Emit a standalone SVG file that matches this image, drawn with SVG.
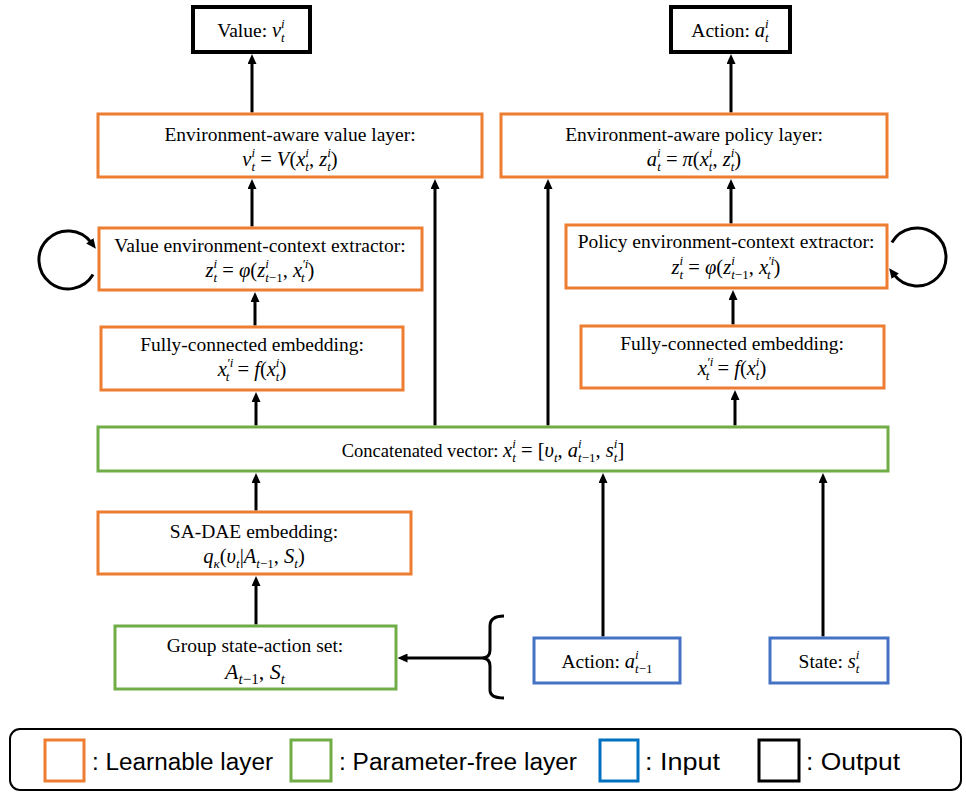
<svg xmlns="http://www.w3.org/2000/svg" width="966" height="792" viewBox="0 0 966 792">
<style>
.t{font-family:"Liberation Serif","Times New Roman",serif;font-size:19.5px;fill:#000;text-anchor:middle}
.m{font-size:20.5px}
.i{font-style:italic}
.s{font-size:13px;font-style:italic}
.n{font-size:13px;font-style:normal}
.lg{font-family:"Liberation Sans",Arial,sans-serif;font-size:23px;fill:#000}
.or{fill:#fff;stroke:#ED7D31;stroke-width:3}
.gr{fill:#fff;stroke:#70AD47;stroke-width:3}
.bl{fill:#fff;stroke:#4472C4;stroke-width:3}
.bk{fill:#fff;stroke:#000;stroke-width:4}
.c{fill:none;stroke:#000;stroke-width:3}
</style>
<defs>
<marker id="ah" viewBox="0 0 10 9" refX="2" refY="4.5" markerWidth="10" markerHeight="9" markerUnits="userSpaceOnUse" orient="auto">
<path d="M0,0 L10,4.5 L0,9 z" fill="#000"/>
</marker>
</defs>

<g id="connectors">
<path class="c" marker-end="url(#ah)" d="M252,112.5 V62"/>
<path class="c" marker-end="url(#ah)" d="M731,112.5 V62"/>
<path class="c" marker-end="url(#ah)" d="M252,226.5 V187"/>
<path class="c" marker-end="url(#ah)" d="M435,425.5 V187"/>
<path class="c" marker-end="url(#ah)" d="M548,425.5 V187"/>
<path class="c" marker-end="url(#ah)" d="M731,223.5 V187"/>
<path class="c" marker-end="url(#ah)" d="M255,325.5 V300"/>
<path class="c" marker-end="url(#ah)" d="M733,324.5 V298"/>
<path class="c" marker-end="url(#ah)" d="M256,425.5 V400"/>
<path class="c" marker-end="url(#ah)" d="M735,425.5 V398"/>
<path class="c" marker-end="url(#ah)" d="M256,510.5 V481"/>
<path class="c" marker-end="url(#ah)" d="M603,636.5 V481"/>
<path class="c" marker-end="url(#ah)" d="M823,636.5 V481"/>
<path class="c" marker-end="url(#ah)" d="M256,624.5 V584"/>
<path class="c" marker-end="url(#ah)" d="M482,658 H405.5"/>
<path class="c" d="M504,616 Q490,616 490,626 V650 Q490,658 482,658 Q490,658 490,666 V690 Q490,698 504,698"/>
<path class="c" marker-end="url(#ah)" d="M93,274.5 A29 29 0 1 1 91,242.3"/>
<path class="c" marker-end="url(#ah)" d="M891.9,242.5 A29 29 0 1 1 894,274.7"/>
</g>

<g id="value-out">
<rect class="bk" x="193" y="7" width="117" height="45"/>
<text class="t" x="251" y="37">Value: <tspan class="i m">v</tspan><tspan class="s" dy="-9">i</tspan><tspan class="s" dx="-3.6" dy="14">t</tspan></text>
</g>

<g id="action-out">
<rect class="bk" x="671" y="7" width="119" height="45"/>
<text class="t" x="730" y="37">Action: <tspan class="i m">a</tspan><tspan class="s" dy="-9">i</tspan><tspan class="s" dx="-3.6" dy="14">t</tspan></text>
</g>

<g id="value-layer">
<rect class="or" x="98" y="114" width="384" height="63"/>
<text class="t" x="290" y="141">Environment-aware value layer:</text>
<text class="t m" x="290" y="166"><tspan class="i">v</tspan><tspan class="s" dy="-9">i</tspan><tspan class="s" dx="-3.6" dy="14">t</tspan><tspan dy="-5"> = </tspan><tspan class="i">V</tspan>(<tspan class="i">x</tspan><tspan class="s" dy="-9">i</tspan><tspan class="s" dx="-3.6" dy="14">t</tspan><tspan dy="-5">, </tspan><tspan class="i">z</tspan><tspan class="s" dy="-9">i</tspan><tspan class="s" dx="-3.6" dy="14">t</tspan><tspan dy="-5">)</tspan></text>
</g>

<g id="policy-layer">
<rect class="or" x="501" y="114" width="386" height="63"/>
<text class="t" x="694" y="141">Environment-aware policy layer:</text>
<text class="t m" x="694" y="166"><tspan class="i">a</tspan><tspan class="s" dy="-9">i</tspan><tspan class="s" dx="-3.6" dy="14">t</tspan><tspan dy="-5"> = </tspan><tspan class="i">π</tspan>(<tspan class="i">x</tspan><tspan class="s" dy="-9">i</tspan><tspan class="s" dx="-3.6" dy="14">t</tspan><tspan dy="-5">, </tspan><tspan class="i">z</tspan><tspan class="s" dy="-9">i</tspan><tspan class="s" dx="-3.6" dy="14">t</tspan><tspan dy="-5">)</tspan></text>
</g>

<g id="value-extractor">
<rect class="or" x="99" y="228" width="323" height="62"/>
<text class="t" x="260" y="252">Value environment-context extractor:</text>
<text class="t m" x="260" y="277"><tspan class="i">z</tspan><tspan class="s" dy="-9">i</tspan><tspan class="s" dx="-3.6" dy="14">t</tspan><tspan dy="-5"> = </tspan><tspan class="i">φ</tspan>(<tspan class="i">z</tspan><tspan class="s" dy="-9">i</tspan><tspan class="s" dx="-3.6" dy="14">t</tspan><tspan class="n">−1</tspan><tspan dy="-5">, </tspan><tspan class="i">x</tspan><tspan class="s" dy="-9">′i</tspan><tspan class="s" dx="-7.5" dy="14">t</tspan><tspan dx="3" dy="-5">)</tspan></text>
</g>

<g id="policy-extractor">
<rect class="or" x="566" y="225" width="321" height="63"/>
<text class="t" x="726" y="248">Policy environment-context extractor:</text>
<text class="t m" x="726" y="274"><tspan class="i">z</tspan><tspan class="s" dy="-9">i</tspan><tspan class="s" dx="-3.6" dy="14">t</tspan><tspan dy="-5"> = </tspan><tspan class="i">φ</tspan>(<tspan class="i">z</tspan><tspan class="s" dy="-9">i</tspan><tspan class="s" dx="-3.6" dy="14">t</tspan><tspan class="n">−1</tspan><tspan dy="-5">, </tspan><tspan class="i">x</tspan><tspan class="s" dy="-9">′i</tspan><tspan class="s" dx="-7.5" dy="14">t</tspan><tspan dx="3" dy="-5">)</tspan></text>
</g>

<g id="fc-left">
<rect class="or" x="101" y="327" width="302" height="63"/>
<text class="t" x="252" y="351">Fully-connected embedding:</text>
<text class="t m" x="252" y="376"><tspan class="i">x</tspan><tspan class="s" dy="-9">′i</tspan><tspan class="s" dx="-7.5" dy="14">t</tspan><tspan dx="3" dy="-5"> = </tspan><tspan class="i">f</tspan>(<tspan class="i">x</tspan><tspan class="s" dy="-9">i</tspan><tspan class="s" dx="-3.6" dy="14">t</tspan><tspan dy="-5">)</tspan></text>
</g>

<g id="fc-right">
<rect class="or" x="581" y="326" width="303" height="62"/>
<text class="t" x="732" y="350">Fully-connected embedding:</text>
<text class="t m" x="732" y="375"><tspan class="i">x</tspan><tspan class="s" dy="-9">′i</tspan><tspan class="s" dx="-7.5" dy="14">t</tspan><tspan dx="3" dy="-5"> = </tspan><tspan class="i">f</tspan>(<tspan class="i">x</tspan><tspan class="s" dy="-9">i</tspan><tspan class="s" dx="-3.6" dy="14">t</tspan><tspan dy="-5">)</tspan></text>
</g>

<g id="concat">
<rect class="gr" x="98" y="427" width="790" height="44"/>
<text class="t" x="483" y="457" style="font-size:18.5px">Concatenated vector:  <tspan class="i m">x</tspan><tspan class="s" dy="-9">i</tspan><tspan class="s" dx="-3.6" dy="14">t</tspan><tspan class="m" dy="-5"> = [</tspan><tspan class="i m">υ</tspan><tspan class="s" dy="5">t</tspan><tspan class="m" dy="-5">, </tspan><tspan class="i m">a</tspan><tspan class="s" dy="-9">i</tspan><tspan class="s" dx="-3.6" dy="14">t</tspan><tspan class="n">−1</tspan><tspan class="m" dy="-5">, </tspan><tspan class="i m">s</tspan><tspan class="s" dy="-9">i</tspan><tspan class="s" dx="-3.6" dy="14">t</tspan><tspan class="m" dy="-5">]</tspan></text>
</g>

<g id="sa-dae">
<rect class="or" x="98" y="512" width="313" height="62"/>
<text class="t" x="254" y="538">SA-DAE embedding:</text>
<text class="t m" x="254" y="563"><tspan class="i">q</tspan><tspan class="s" dy="5">κ</tspan><tspan dy="-5">(</tspan><tspan class="i">υ</tspan><tspan class="s" dy="5">t</tspan><tspan dy="-5">|</tspan><tspan class="i">A</tspan><tspan class="s" dy="5">t</tspan><tspan class="n">−1</tspan><tspan dy="-5">, </tspan><tspan class="i">S</tspan><tspan class="s" dy="5">t</tspan><tspan dy="-5">)</tspan></text>
</g>

<g id="group-set">
<rect class="gr" x="115" y="626" width="281" height="63"/>
<text class="t" x="255" y="652">Group state-action set:</text>
<text class="t" x="255" y="679" style="font-size:22px"><tspan class="i">A</tspan><tspan class="s" dy="5" style="font-size:15px">t</tspan><tspan class="n" style="font-size:15px">−1</tspan><tspan dy="-5">, </tspan><tspan class="i">S</tspan><tspan class="s" dy="5" style="font-size:15px">t</tspan></text>
</g>

<g id="action-in">
<rect class="bl" x="534" y="638" width="146" height="45"/>
<text class="t" x="607" y="668">Action: <tspan class="i m">a</tspan><tspan class="s" dy="-9">i</tspan><tspan class="s" dx="-3.6" dy="14">t</tspan><tspan class="n">−1</tspan></text>
</g>

<g id="state-in">
<rect class="bl" x="770" y="638" width="118" height="45"/>
<text class="t" x="829" y="668">State: <tspan class="i m">s</tspan><tspan class="s" dy="-9">i</tspan><tspan class="s" dx="-3.6" dy="14">t</tspan></text>
</g>

<g id="legend">
<rect x="10" y="729" width="951" height="61" rx="10" fill="#fff" stroke="#000" stroke-width="2"/>
<rect x="45" y="740" width="39" height="41" fill="none" stroke="#ED7D31" stroke-width="3"/>
<text class="lg" x="92" y="770" textLength="181" lengthAdjust="spacingAndGlyphs">: Learnable layer</text>
<rect x="291" y="740" width="40" height="41" fill="none" stroke="#70AD47" stroke-width="3"/>
<text class="lg" x="339" y="770" textLength="238" lengthAdjust="spacingAndGlyphs">: Parameter-free layer</text>
<rect x="600" y="740" width="38" height="41" fill="none" stroke="#0070C0" stroke-width="3"/>
<text class="lg" x="645" y="770" textLength="75" lengthAdjust="spacingAndGlyphs">: Input</text>
<rect x="759" y="740" width="40" height="41" fill="none" stroke="#000" stroke-width="3"/>
<text class="lg" x="806" y="770" textLength="94" lengthAdjust="spacingAndGlyphs">: Output</text>
</g>
</svg>
